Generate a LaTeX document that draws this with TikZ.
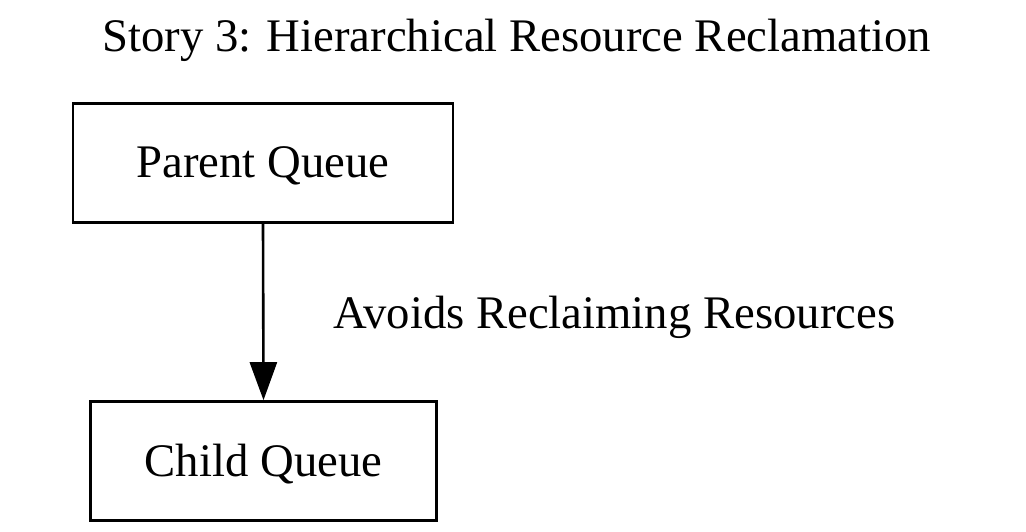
\documentclass[tikz,border=0pt]{standalone}
\usepackage{fontspec}
\setmainfont{Liberation Serif}
\usetikzlibrary{arrows.meta}
\begin{document}
\begin{tikzpicture}[x=1pt,y=-1pt,
  txt/.style={font=\fontsize{46.7}{56}\selectfont, inner sep=0pt},
  qbox/.style={txt, draw, line width=2.6pt, minimum width=380pt, minimum height=119pt,
     text height=30pt, text depth=0pt, align=center},
  flow/.style={line width=2.6pt, -{Triangle[length=38pt,width=27pt]}}]
\useasboundingbox (0,0) rectangle (1026,532);
\node[txt, anchor=base] (title) at (516.5,52) {Story 3: Hierarchical Resource Reclamation};
\node[qbox] (parent) at (263,163) {Parent Queue};
\node[qbox, minimum width=346pt] (child) at (263.5,461) {Child Queue};
\draw[flow] (parent.south) -- (child.north);
\node[txt, anchor=base west] (lbl) at (333,328) {Avoids Reclaiming Resources};
\end{tikzpicture}
\end{document}
